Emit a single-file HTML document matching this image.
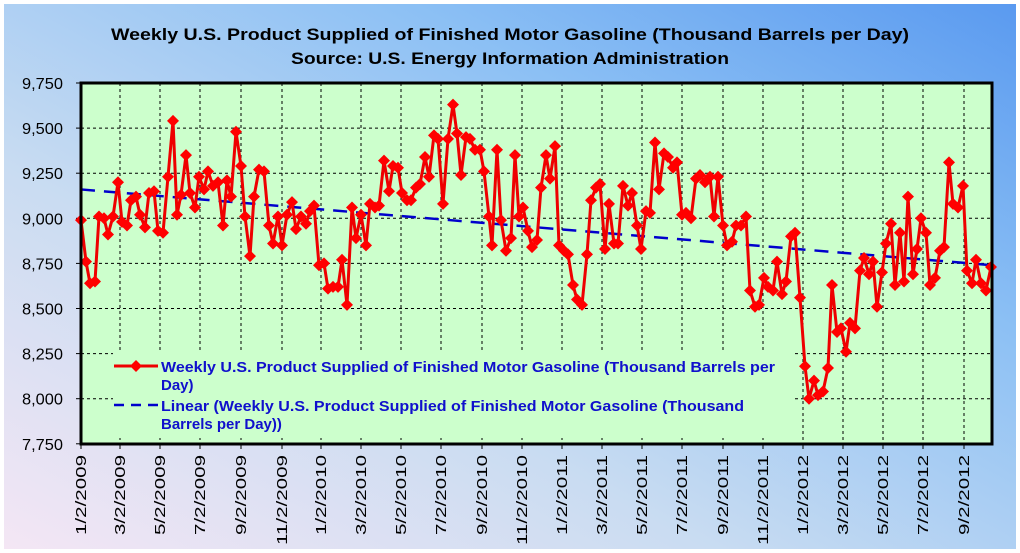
<!DOCTYPE html>
<html><head><meta charset="utf-8"><style>
html,body{margin:0;padding:0;background:#fff;}
svg{display:block;font-family:"Liberation Sans",Arial,sans-serif;}
</style></head><body>
<svg id="s" width="1020" height="553" viewBox="0 0 1020 553" xmlns="http://www.w3.org/2000/svg">
<defs>
<linearGradient id="bg" x1="0" y1="1" x2="1" y2="0">
<stop offset="0" stop-color="#f4e6f4"/>
<stop offset="0.35" stop-color="#c9dcf2"/>
<stop offset="0.7" stop-color="#8cc0f4"/>
<stop offset="1" stop-color="#5a9af0"/>
</linearGradient>
</defs>
<rect x="4" y="4" width="1012" height="545" fill="url(#bg)"/>
<text x="510" y="40" font-size="17" font-weight="bold" text-anchor="middle" textLength="798" lengthAdjust="spacingAndGlyphs">Weekly U.S. Product Supplied of Finished Motor Gasoline  (Thousand Barrels per Day)</text>
<text x="510" y="64" font-size="17" font-weight="bold" text-anchor="middle" textLength="438" lengthAdjust="spacingAndGlyphs">Source: U.S. Energy Information Administration</text>
<rect x="81" y="83" width="911" height="361" fill="#ccffcc"/>
<g id="grid" stroke="#000" stroke-width="1" stroke-dasharray="3,3"></g>
<g id="ylab" font-size="16" text-anchor="end"></g>
<g id="xlab" font-size="15"></g>
<line x1="81" y1="184" x2="992" y2="344" stroke="#0000cc" stroke-width="2.5" stroke-dasharray="14,9" id="trend"/>
<g id="series"></g>
<rect x="81" y="83" width="911" height="361" fill="none" stroke="#000" stroke-width="3"/>
<rect x="113" y="353" width="682" height="85" fill="#ccffcc"/>
<line x1="114" y1="366" x2="158" y2="366" stroke="#e00" stroke-width="3"/>
<polygon points="136,360 142,366 136,372 130,366" fill="#f00"/>
<line x1="114" y1="405" x2="158" y2="405" stroke="#0000cc" stroke-width="2.5" stroke-dasharray="10,7"/>
<g font-size="15" font-weight="bold" fill="#1010cc">
<text x="161" y="372" textLength="614" lengthAdjust="spacingAndGlyphs">Weekly U.S. Product Supplied of Finished Motor Gasoline  (Thousand Barrels per</text>
<text x="161" y="390">Day)</text>
<text x="161" y="411" textLength="583" lengthAdjust="spacingAndGlyphs">Linear (Weekly U.S. Product Supplied of Finished Motor Gasoline  (Thousand</text>
<text x="161" y="429">Barrels per Day))</text>
</g>
</svg>
<script>
var NS="http://www.w3.org/2000/svg";
function Y(v){return 83+(9750-v)/250*45.1;}
function el(t,a,p,txt){var e=document.createElementNS(NS,t);for(var k in a)e.setAttribute(k,a[k]);if(txt)e.textContent=txt;p.appendChild(e);return e;}
var g=document.getElementById('grid'),yl=document.getElementById('ylab'),xl=document.getElementById('xlab');
var vals=[9750,9500,9250,9000,8750,8500,8250,8000,7750];
vals.forEach(function(v){var y=Y(v);if(v>7750&&v<9750)el('line',{x1:81,y1:y,x2:992,y2:y},g);
el('line',{x1:76,y1:y,x2:81,y2:y,stroke:'#000','stroke-dasharray':'none'},g);
el('text',{x:63,y:y+6,textLength:41,lengthAdjust:'spacingAndGlyphs'},yl,v.toLocaleString('en-US'));});
var xt=[[81,'1/2/2009'],[120,'3/2/2009'],[160,'5/2/2009'],[200,'7/2/2009'],[241,'9/2/2009'],[282,'11/2/2009'],[321,'1/2/2010'],[361,'3/2/2010'],[401,'5/2/2010'],[441,'7/2/2010'],[482,'9/2/2010'],[522,'11/2/2010'],[562,'1/2/2011'],[602,'3/2/2011'],[642,'5/2/2011'],[682,'7/2/2011'],[723,'9/2/2011'],[763,'11/2/2011'],[803,'1/2/2012'],[843,'3/2/2012'],[883,'5/2/2012'],[923,'7/2/2012'],[964,'9/2/2012']];
xt.forEach(function(t){if(t[0]>81)el('line',{x1:t[0],y1:83,x2:t[0],y2:444},g);
el('line',{x1:t[0],y1:444,x2:t[0],y2:449,stroke:'#000','stroke-dasharray':'none'},g);
var a={x:0,y:0,'text-anchor':'end',transform:'translate('+(t[0]+5)+',455) rotate(-90)'};
a.textLength=(t[1].length==8?80:90);a.lengthAdjust='spacingAndGlyphs';
el('text',a,xl,t[1]);});
document.getElementById('trend').setAttribute('y1',Y(9160));document.getElementById('trend').setAttribute('y2',Y(8740));
var d=[[81,8990],[86,8760],[90,8640],[95,8650],[99,9010],[104,9000],[108,8910],[113,9010],[118,9200],[122,8980],[127,8960],[131,9100],[136,9120],[140,9020],[145,8950],[149,9140],[154,9150],[158,8930],[163,8920],[168,9230],[173,9540],[177,9020],[181,9130],[186,9350],[190,9140],[195,9060],[199,9230],[204,9160],[208,9260],[213,9180],[218,9200],[223,8960],[227,9210],[231,9120],[236,9480],[241,9290],[245,9010],[250,8790],[254,9120],[259,9270],[264,9260],[269,8960],[273,8860],[278,9010],[282,8850],[287,9020],[292,9090],[296,8940],[301,9010],[306,8970],[310,9040],[314,9070],[319,8740],[324,8750],[328,8610],[333,8620],[338,8620],[342,8770],[347,8520],[352,9060],[356,8890],[361,9020],[366,8850],[370,9080],[375,9060],[379,9070],[384,9320],[389,9150],[393,9290],[398,9280],[402,9140],[407,9100],[411,9100],[416,9170],[420,9190],[425,9340],[429,9230],[434,9460],[438,9440],[443,9080],[448,9440],[453,9630],[457,9470],[461,9240],[466,9450],[470,9440],[475,9380],[480,9380],[484,9260],[489,9010],[492,8850],[497,9380],[501,8990],[506,8820],[511,8890],[515,9350],[519,9010],[523,9060],[528,8930],[532,8840],[537,8880],[541,9170],[546,9350],[550,9220],[555,9400],[559,8850],[564,8820],[568,8800],[573,8630],[577,8550],[582,8520],[587,8800],[591,9100],[596,9170],[600,9190],[605,8830],[609,9080],[614,8860],[618,8860],[623,9180],[628,9070],[632,9140],[637,8960],[641,8830],[646,9040],[650,9030],[655,9420],[659,9160],[664,9360],[668,9340],[673,9280],[677,9310],[682,9020],[686,9030],[691,9000],[696,9220],[700,9240],[705,9200],[710,9230],[714,9010],[718,9230],[723,8960],[727,8850],[732,8870],[736,8960],[741,8960],[746,9010],[750,8600],[755,8510],[759,8520],[764,8670],[768,8620],[773,8600],[777,8760],[782,8580],[786,8650],[791,8900],[795,8920],[800,8560],[805,8180],[809,8000],[814,8100],[818,8020],[823,8040],[828,8170],[832,8630],[837,8370],[841,8390],[846,8260],[850,8420],[855,8390],[860,8710],[864,8780],[869,8690],[873,8760],[877,8510],[882,8700],[886,8860],[891,8970],[895,8630],[900,8920],[904,8650],[908,9120],[913,8690],[917,8830],[921,9000],[926,8920],[930,8630],[935,8670],[940,8820],[944,8840],[949,9310],[953,9080],[958,9060],[963,9180],[967,8710],[972,8640],[976,8770],[981,8640],[986,8600],[991,8730]];
var sg=document.getElementById('series');
el('polyline',{points:d.map(function(p){return p[0]+','+Y(p[1]).toFixed(1);}).join(' '),fill:'none',stroke:'#e00',"stroke-width":3,"stroke-linejoin":"round"},sg);
d.forEach(function(p){var x=p[0],y=Y(p[1]);el('polygon',{points:x+','+(y-6)+' '+(x+6)+','+y+' '+x+','+(y+6)+' '+(x-6)+','+y,fill:'#f00'},sg);});
</script>
</body></html>
